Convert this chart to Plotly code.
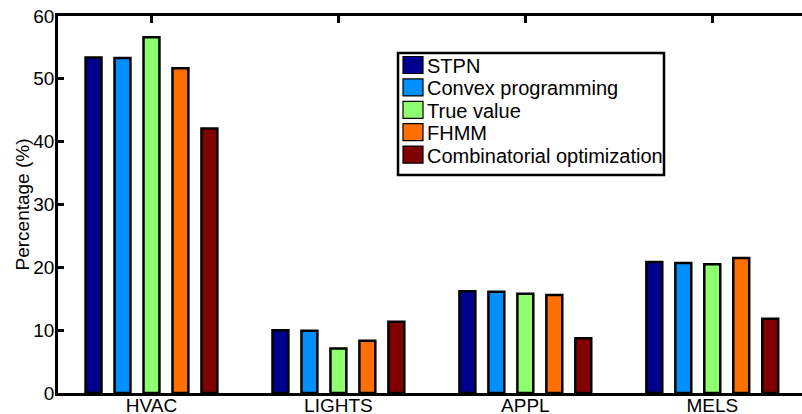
import plotly.graph_objects as go

categories = ["HVAC", "LIGHTS", "APPL", "MELS"]
series_names = ["STPN", "Convex programming", "True value", "FHMM", "Combinatorial optimization"]
stpn = [53.4, 10.0, 16.2, 20.85]
convex = [53.3, 9.9, 16.1, 20.7]
true_value = [56.6, 7.1, 15.8, 20.5]
fhmm = [51.7, 8.3, 15.6, 21.5]
combinatorial = [42.1, 11.35, 8.7, 11.8]
y_ticks = [0, 10, 20, 30, 40, 50, 60]

colors = ["#00008F", "#008FFF", "#8FFF70", "#FF7000", "#800000"]
series = [stpn, convex, true_value, fhmm, combinatorial]

x_pos = [1, 2, 3, 4]

W, H = 802, 414
ML, MR, MT, MB = 58, 0, 16, 21
PW, PH = W - ML - MR, H - MT - MB


def px_x(p):
    return (p - ML) / PW


def px_y(p):
    return (H - MB - p) / PH


fig = go.Figure()
for name, vals, col in zip(series_names, series, colors):
    fig.add_trace(go.Bar(
        x=x_pos, y=vals, name=name,
        marker=dict(color=col, line=dict(color="black", width=2.5)),
        showlegend=False,
    ))

font_family = "Liberation Sans, Arial, sans-serif"

# legend box drawn by hand to match the reference's proportions
shapes = [dict(type="rect", xref="paper", yref="paper",
               x0=px_x(398), x1=px_x(664), y0=px_y(175), y1=px_y(53),
               line=dict(color="black", width=2.5), fillcolor="white", layer="above")]
annotations = []
row0, step = 65, 22.4
for i, (name, col) in enumerate(zip(series_names, colors)):
    cy = row0 + i * step
    shapes.append(dict(type="rect", xref="paper", yref="paper",
                       x0=px_x(403), x1=px_x(423), y0=px_y(cy + 8.5), y1=px_y(cy - 8.5),
                       line=dict(color="black", width=1.2), fillcolor=col, layer="above"))
    annotations.append(dict(xref="paper", yref="paper", x=px_x(425), y=px_y(cy + 1),
                            xanchor="left", yanchor="middle", text=name, showarrow=False,
                            font=dict(size=20, family=font_family, color="black")))

# y-axis title
annotations.append(dict(xref="paper", yref="paper", x=px_x(22), y=0.5,
                        xanchor="center", yanchor="middle", text="Percentage (%)",
                        textangle=-90, showarrow=False,
                        font=dict(size=19, family=font_family, color="black")))

fig.update_layout(
    width=W, height=H,
    margin=dict(l=ML, r=MR, t=MT, b=MB, autoexpand=False),
    paper_bgcolor="white", plot_bgcolor="white",
    barmode="group", bargap=0.225, bargroupgap=0.45,
    font=dict(family=font_family, size=19, color="black"),
    showlegend=False,
    shapes=shapes, annotations=annotations,
    xaxis=dict(
        range=[0.5, 4.48], tickmode="array", tickvals=x_pos, ticktext=categories,
        showline=True, linecolor="black", linewidth=2.5, mirror="ticks",
        ticks="inside", ticklen=7, tickwidth=2.5, tickcolor="black",
        showgrid=False, zeroline=False, layer="below traces",
        tickfont=dict(size=19), automargin=False, ticklabelstandoff=-7,
    ),
    yaxis=dict(
        range=[0, 60], tickmode="array", tickvals=y_ticks,
        showline=True, linecolor="black", linewidth=2.5, mirror=False,
        ticks="inside", ticklen=6, tickwidth=2.5, tickcolor="black",
        showgrid=False, zeroline=False, layer="below traces",
        tickfont=dict(size=19), automargin=False, ticklabelstandoff=-3,
    ),
)

fig.write_html(
    "out.html",
    config={"displayModeBar": False},
    post_script="document.body.style.margin='0';document.body.style.overflow='hidden';",
)
